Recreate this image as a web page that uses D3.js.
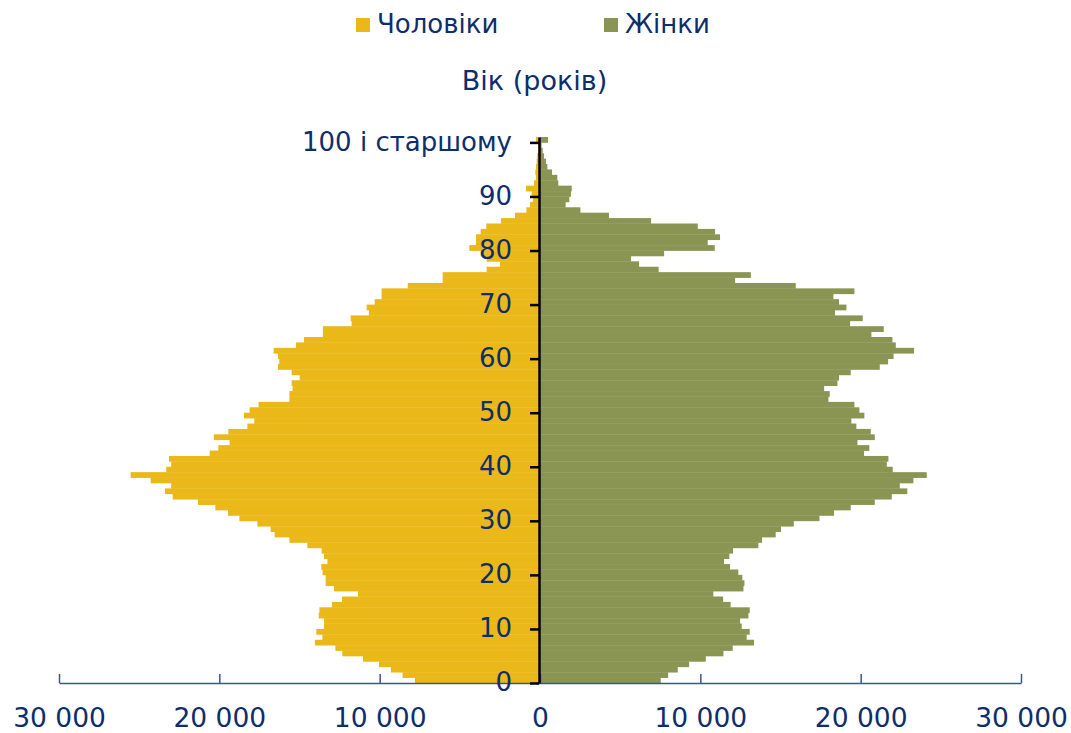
<!DOCTYPE html>
<html>
<head>
<meta charset="utf-8">
<script src="https://cdn.jsdelivr.net/npm/d3@7/dist/d3.min.js"></script>
<style>
  html, body { margin: 0; padding: 0; background: #fff; }
  svg { display: block; }
  text { font-family: "DejaVu Sans", Verdana, sans-serif; }
</style>
</head>
<body>
<svg id="chart" width="1071" height="733"></svg>
<script>
// ---- Data ----
const ages = d3.range(0, 101); // 0 .. 100 ("100 і старшому")

const males = [
  7800, 8570, 9300, 10040, 11040, 12330, 12760, 14040, 13570, 13950,
  13470, 13470, 13800, 13760, 12980, 12350, 11350, 12850, 13370, 13370,
  13560, 13640, 13260, 13470, 13620, 14510, 15630, 16550, 16800, 17630,
  18750, 19460, 20250, 21330, 22910, 23390, 23000, 24280, 25530, 23310,
  23000, 23140, 20600, 20060, 19360, 20340, 19440, 18250, 17820, 18460,
  18110, 17550, 15630, 15630, 15430, 15490, 14990, 15490, 16340, 16260,
  16340, 16610, 15220, 14720, 13540, 13540, 11750, 11810, 10670, 10810,
  10310, 9880, 9880, 8250, 6070, 6070, 3330, 2500, 3330, 3700,
  4410, 3990, 3990, 3700, 3350, 2430, 1560, 850, 620, 440,
  520, 870, 375, 250, 290, 250, 210, 170, 125, 125,
  250
];

const females = [
  7530, 7990, 8590, 9300, 10340, 11440, 12020, 13350, 12890, 13080,
  12580, 12480, 13000, 13080, 11890, 11420, 10810, 12690, 12750, 12620,
  12370, 11850, 11480, 11810, 12040, 13620, 13850, 14700, 15030, 15830,
  17430, 18340, 19380, 20880, 21940, 22910, 22440, 23290, 24120, 22000,
  21630, 21730, 20210, 20540, 19800, 20880, 20630, 19730, 19420, 20230,
  19920, 19610, 17990, 18070, 17720, 18550, 18650, 19380, 21190, 21710,
  22050, 23330, 22190, 21980, 20670, 21440, 19340, 20130, 18400, 19110,
  18650, 18300, 19610, 15950, 12170, 13150, 7400, 6180, 5680, 7740,
  10900, 10460, 11230, 10920, 9840, 6930, 4300, 2520, 1600, 1830,
  1930, 1980, 1140, 1080, 750, 460, 370, 250, 170, 100,
  500
];

const seriesNames = ["Чоловіки", "Жінки"];
const seriesColors = ["#EAB818", "#8A9553"];
const ageTicks = [0, 10, 20, 30, 40, 50, 60, 70, 80, 90, 100];
const ageTickLabels = ["0", "10", "20", "30", "40", "50", "60", "70", "80", "90", "100 і старшому"];
const xTicks = [-30000, -20000, -10000, 0, 10000, 20000, 30000];
const axisTitle = "Вік (років)";

// ---- Layout ----
const svg = d3.select("#chart");
const textColor = "#0E2D6B";

const x = d3.scaleLinear().domain([-30000, 30000]).range([59, 1021]);
const y = d3.scaleBand().domain(ages).range([683, 137]).paddingInner(0).paddingOuter(0);
// linear helper: age a -> bottom edge of its band
const yEdge = d3.scaleLinear().domain([0, ages.length]).range([683, 137]);

const locale = d3.formatLocale({ decimal: ",", thousands: "\u00a0", grouping: [3], currency: ["", ""] });
const fmt = locale.format(",");

// bars
const gBars = svg.append("g");
gBars.selectAll("rect.m")
  .data(ages)
  .join("rect")
  .attr("class", "m")
  .attr("x", a => x(-males[a]))
  .attr("width", a => x(0) - x(-males[a]))
  .attr("y", a => y(a))
  .attr("height", y.bandwidth() + 0.35)
  .attr("fill", seriesColors[0]);

gBars.selectAll("rect.f")
  .data(ages)
  .join("rect")
  .attr("class", "f")
  .attr("x", x(0))
  .attr("width", a => x(females[a]) - x(0))
  .attr("y", a => y(a))
  .attr("height", y.bandwidth() + 0.35)
  .attr("fill", seriesColors[1]);

// x axis (ticks pointing up)
const xAxis = d3.axisBottom(x)
  .tickValues(xTicks)
  .tickFormat(d => fmt(Math.abs(d)))
  .tickSizeInner(-9)
  .tickSizeOuter(0)
  .tickPadding(0);

const gx = svg.append("g").attr("transform", "translate(0,683)").call(xAxis);
gx.select(".domain").attr("stroke", "#3A5591").attr("stroke-width", 1.5);
gx.selectAll(".tick line").attr("stroke", "#3A5591").attr("stroke-width", 1.5);
gx.selectAll(".tick text")
  .attr("fill", textColor)
  .attr("font-size", 26.5)
  .attr("dy", null)
  .attr("y", 44);

// y axis
const yAxis = d3.axisLeft(yEdge)
  .tickValues(ageTicks)
  .tickFormat((d, i) => ageTickLabels[i])
  .tickSizeInner(9)
  .tickSizeOuter(0)
  .tickPadding(18);

const gy = svg.append("g").attr("transform", "translate(539,0)").call(yAxis);
gy.select(".domain").attr("stroke", "#000").attr("stroke-width", 2.5);
gy.selectAll(".tick line").attr("stroke", "#000").attr("stroke-width", 2.5);
gy.selectAll(".tick text")
  .attr("fill", textColor)
  .attr("font-size", 26)
  .attr("dy", "0.3em");

// axis title
svg.append("text")
  .attr("x", 534.5).attr("y", 90)
  .attr("text-anchor", "middle")
  .attr("fill", textColor)
  .attr("font-size", 27)
  .text(axisTitle);

// legend
const legendX = [356, 604];
const gl = svg.append("g");
seriesNames.forEach((name, i) => {
  gl.append("rect")
    .attr("x", legendX[i]).attr("y", 18)
    .attr("width", 14).attr("height", 14)
    .attr("fill", seriesColors[i]);
  gl.append("text")
    .attr("x", legendX[i] + 21).attr("y", 33)
    .attr("fill", textColor)
    .attr("font-size", 26)
    .text(name);
});
</script>
</body>
</html>
